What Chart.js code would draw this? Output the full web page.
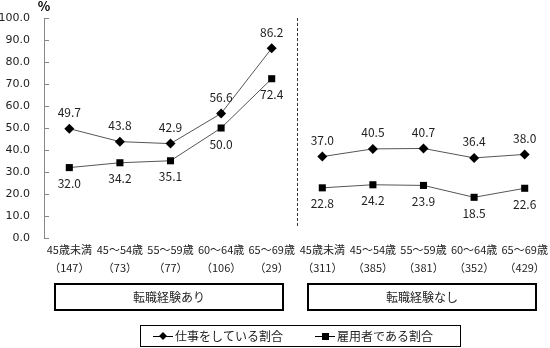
<!DOCTYPE html>
<html>
<head>
<meta charset="utf-8">
<script src="https://cdn.jsdelivr.net/npm/chart.js@4.4.1/dist/chart.umd.min.js"></script>
<style>
  html, body { margin: 0; padding: 0; background: #fff; }
  #wrap { width: 550px; height: 348px; position: relative; }
</style>
</head>
<body>
<div id="wrap"><canvas id="workChart"></canvas></div>
<script>
'use strict';

var ages   = ['45歳未満', '45～54歳', '55～59歳', '60～64歳', '65～69歳',
              '45歳未満', '45～54歳', '55～59歳', '60～64歳', '65～69歳'];
var counts = [147, 73, 77, 106, 29, 311, 385, 381, 352, 429];
var groups = ['転職経験あり', '転職経験なし'];

var working  = [49.7, 43.8, 42.9, 56.6, 86.2, 37.0, 40.5, 40.7, 36.4, 38.0];
var employed = [32.0, 34.2, 35.1, 50.0, 72.4, 22.8, 24.2, 23.9, 18.5, 22.6];

var seriesNames = ['仕事をしている割合', '雇用者である割合'];
var yTicks = [0, 10, 20, 30, 40, 50, 60, 70, 80, 90, 100];

var FONT = '"Noto Sans CJK JP", "Noto Sans", sans-serif';
var lineColor = '#555555';

// the two groups are not joined
var breakAfter = 4;

var labels = ages.map(function (a, i) {
    return [a, '（' + counts[i] + '）'];
});

// value labels, dividing line, group boxes and legend
var extras = {
    id: 'extras',
    afterDatasetsDraw: function (chart) {
        var ctx = chart.ctx;
        var x = chart.scales.x;
        var y = chart.scales.y;

        ctx.save();
        ctx.font = '12px ' + FONT;
        ctx.fillStyle = '#222';
        ctx.textAlign = 'center';
        ctx.textBaseline = 'middle';
        chart.data.datasets.forEach(function (ds, di) {
            var meta = chart.getDatasetMeta(di);
            meta.data.forEach(function (pt, i) {
                var dy = di === 0 ? -16 : 16;
                ctx.fillText(ds.data[i].toFixed(1), pt.x, pt.y + dy);
            });
        });

        // dashed divider between the groups
        var xm = (x.getPixelForValue(breakAfter) + x.getPixelForValue(breakAfter + 1)) / 2;
        ctx.strokeStyle = '#333';
        ctx.lineWidth = 1;
        ctx.setLineDash([3, 2]);
        ctx.beginPath();
        ctx.moveTo(Math.round(xm) + 0.5, y.getPixelForValue(100));
        ctx.lineTo(Math.round(xm) + 0.5, 226);
        ctx.stroke();
        ctx.setLineDash([]);

        // group boxes under the axis labels
        ctx.lineWidth = 2;
        ctx.strokeStyle = '#000';
        ctx.font = '12px ' + FONT;
        groups.forEach(function (g, gi) {
            var left = Math.round(x.getPixelForValue(gi * 5) - 14);
            var right = Math.round(x.getPixelForValue(gi * 5 + 4) + 11);
            ctx.strokeRect(left, 284, right - left, 26);
            ctx.fillText(g, (left + right) / 2, 297);
        });

        // legend
        ctx.lineWidth = 1;
        ctx.strokeRect(140.5, 325.5, 320, 21);
        ctx.font = '12px ' + FONT;
        ctx.textAlign = 'left';
        var items = [{ x: 153, style: 'diamond' }, { x: 315, style: 'square' }];
        items.forEach(function (it, i) {
            var cy = 336;
            ctx.strokeStyle = '#000';
            ctx.beginPath();
            ctx.moveTo(it.x, cy + 0.5);
            ctx.lineTo(it.x + 20, cy + 0.5);
            ctx.stroke();
            ctx.fillStyle = '#000';
            var mx = it.x + 10;
            ctx.beginPath();
            if (it.style === 'diamond') {
                ctx.moveTo(mx, cy - 4);
                ctx.lineTo(mx + 4, cy);
                ctx.lineTo(mx, cy + 4);
                ctx.lineTo(mx - 4, cy);
                ctx.closePath();
                ctx.fill();
            } else {
                ctx.fillRect(mx - 3, cy - 3, 7, 7);
            }
            ctx.fillStyle = '#222';
            ctx.fillText(seriesNames[i], it.x + 22, cy);
        });

        // unit
        ctx.font = 'bold 13px ' + FONT;
        ctx.textAlign = 'center';
        ctx.fillStyle = '#000';
        ctx.fillText('%', 44, 6);
        ctx.restore();
    }
};

var segmentStyle = {
    borderColor: function (c) {
        return c.p0DataIndex === breakAfter ? 'rgba(0,0,0,0)' : lineColor;
    }
};

var workChart = new Chart(document.getElementById('workChart'), {
    type: 'line',
    data: {
        labels: labels,
        datasets: [
            {
                label: seriesNames[0],
                data: working,
                borderColor: lineColor,
                borderWidth: 1,
                pointStyle: 'rectRot',
                pointRadius: 5,
                pointBackgroundColor: '#000',
                pointBorderColor: '#000',
                pointBorderWidth: 0,
                segment: segmentStyle
            },
            {
                label: seriesNames[1],
                data: employed,
                borderColor: lineColor,
                borderWidth: 1,
                pointStyle: 'rect',
                pointRadius: 5,
                pointBackgroundColor: '#000',
                pointBorderColor: '#000',
                pointBorderWidth: 0,
                segment: segmentStyle
            }
        ]
    },
    options: {
        responsive: true,
        maintainAspectRatio: false,
        animation: false,
        layout: {
            autoPadding: false,
            padding: { top: 18, right: -2, left: 0, bottom: 0 }
        },
        plugins: {
            legend: { display: false },
            tooltip: { enabled: false }
        },
        scales: {
            x: {
                offset: true,
                grid: { display: false, drawTicks: false },
                border: { display: false },
                ticks: {
                    autoSkip: false,
                    maxRotation: 0,
                    minRotation: 0,
                    padding: 3,
                    color: '#222',
                    font: { family: FONT, size: 11, lineHeight: 1.64 }
                },
                afterFit: function (s) {
                    s.height = 110;
                    s.paddingLeft = 0;
                    s.paddingRight = 0;
                }
            },
            y: {
                min: 0,
                max: 100,
                afterBuildTicks: function (s) {
                    s.ticks = yTicks.map(function (v) { return { value: v }; });
                },
                grid: { display: false },
                border: { display: true, color: '#888', width: 1 },
                ticks: {
                    color: '#222',
                    padding: 6,
                    font: { family: '"DejaVu Sans", sans-serif', size: 11 },
                    callback: function (v) { return v.toFixed(1); }
                },
                afterFit: function (s) { s.width = 44; }
            }
        }
    },
    plugins: [extras, {
        id: 'yTickMarks',
        afterDraw: function (chart) {
            // short inward ticks on the value axis
            var ctx = chart.ctx, y = chart.scales.y, x0 = chart.chartArea.left;
            ctx.save();
            ctx.strokeStyle = '#888';
            ctx.lineWidth = 1;
            yTicks.forEach(function (v) {
                var py = Math.round(y.getPixelForValue(v)) + 0.5;
                ctx.beginPath();
                ctx.moveTo(x0, py);
                ctx.lineTo(x0 + 5, py);
                ctx.stroke();
            });
            ctx.restore();
        }
    }]
});
</script>
</body>
</html>
